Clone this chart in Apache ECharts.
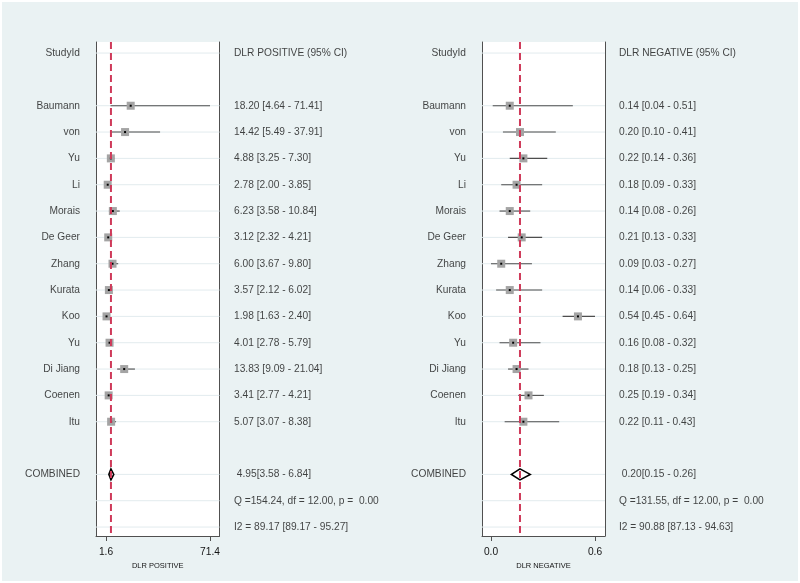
<!DOCTYPE html>
<html>
<head>
<meta charset="utf-8">
<title>DLR forest plot</title>
<script src="https://cdn.jsdelivr.net/npm/echarts@6/dist/echarts.min.js"></script>
<style>
html, body { margin: 0; padding: 0; background: #fff; }
#wrap { position: relative; width: 800px; height: 583px; }
#chart { width: 800px; height: 583px; }
#frame { position: absolute; left: 0; top: 0; width: 800px; height: 583px; box-sizing: border-box; border: 2px solid #fff; pointer-events: none; }
</style>
</head>
<body>
<div id="wrap"><div id="chart"></div><div id="frame"></div></div>
<script>
// study names, top to bottom
const studies = ['Baumann', 'von', 'Yu', 'Li', 'Morais', 'De Geer', 'Zhang', 'Kurata', 'Koo', 'Yu', 'Di Jiang', 'Coenen', 'Itu']

// DLR positive
const posEst = [18.20, 14.42, 4.88, 2.78, 6.23, 3.12, 6.00, 3.57, 1.98, 4.01, 13.83, 3.41, 5.07]
const posLo = [4.64, 5.49, 3.25, 2.00, 3.58, 2.32, 3.67, 2.12, 1.63, 2.78, 9.09, 2.77, 3.07]
const posHi = [71.41, 37.91, 7.30, 3.85, 10.84, 4.21, 9.80, 6.02, 2.40, 5.79, 21.04, 4.21, 8.38]
const posCombined = [4.95, 3.58, 6.84]
const posQ = [154.24, 12.00, 0.00]
const posI2 = [89.17, 89.17, 95.27]

// DLR negative
const negEst = [0.14, 0.20, 0.22, 0.18, 0.14, 0.21, 0.09, 0.14, 0.54, 0.16, 0.18, 0.25, 0.22]
const negLo = [0.04, 0.10, 0.14, 0.09, 0.08, 0.13, 0.03, 0.06, 0.45, 0.08, 0.13, 0.19, 0.11]
const negHi = [0.51, 0.41, 0.36, 0.33, 0.26, 0.33, 0.27, 0.33, 0.64, 0.32, 0.25, 0.34, 0.43]
const negCombined = [0.20, 0.15, 0.26]
const negQ = [131.55, 12.00, 0.00]
const negI2 = [90.88, 87.13, 94.63]

// row layout (row 0 = header, studies from row 2)
const HEADER_ROW = 0
const FIRST_STUDY_ROW = 2
const COMBINED_ROW = 16
const Q_ROW = 17
const I2_ROW = 18

const FONT = '"Liberation Sans", Arial, sans-serif'
const TEXT = '#141414'
const AXIS = '#505050'
const Y_MIN = -0.42
const Y_MAX = 18.34
const TOP = 42
const HEIGHT = 494

const f2 = (v) => v.toFixed(2)

const panels = [
  {
    axisName: 'DLR POSITIVE', header: 'DLR POSITIVE (95% CI)',
    est: posEst, lo: posLo, hi: posHi, comb: posCombined, q: posQ, i2: posI2,
    nameRight: 80, plotLeft: 96, plotWidth: 123.5, valueLeft: 234,
    xMin: -5.08, xMax: 77.78
  },
  {
    axisName: 'DLR NEGATIVE', header: 'DLR NEGATIVE (95% CI)',
    est: negEst, lo: negLo, hi: negHi, comb: negCombined, q: negQ, i2: negI2,
    nameRight: 466, plotLeft: 482, plotWidth: 123, valueLeft: 619,
    xMin: -0.0228, xMax: 0.6987
  }
]

const grid = []
const xAxis = []
const yAxis = []
const series = []

const hiddenY = (gi) => ({
  gridIndex: gi, type: 'value', inverse: true, min: Y_MIN, max: Y_MAX, show: false
})

const textSeries = (xi, yi, items, pos) => ({
  type: 'scatter', xAxisIndex: xi, yAxisIndex: yi, symbolSize: 0, silent: true,
  data: items,
  label: {
    show: true, position: pos, distance: 0, formatter: '{b}',
    color: TEXT, fontFamily: FONT, fontSize: 10.2
  }
})

panels.forEach((p) => {
  const rows = studies.map((s, i) => i + FIRST_STUDY_ROW)
  const gridRows = [HEADER_ROW, ...rows, COMBINED_ROW, Q_ROW, I2_ROW]
  const ticks = [Math.min(...p.lo), Math.max(...p.hi)]

  // names column
  const gName = grid.length
  grid.push({ left: 0, width: p.nameRight, top: TOP, height: HEIGHT })
  xAxis.push({ gridIndex: gName, type: 'value', min: 0, max: 1, show: false })
  const yName = yAxis.length
  yAxis.push(hiddenY(gName))
  const xName = xAxis.length - 1
  const nameItems = [{ name: 'StudyId', value: [1, HEADER_ROW] }]
  studies.forEach((s, i) => nameItems.push({ name: s, value: [1, rows[i]] }))
  nameItems.push({ name: 'COMBINED', value: [1, COMBINED_ROW] })
  series.push(textSeries(xName, yName, nameItems, 'left'))

  // plot area
  const gPlot = grid.length
  grid.push({
    left: p.plotLeft, width: p.plotWidth, top: TOP, height: HEIGHT,
    show: true, backgroundColor: '#ffffff', borderWidth: 0
  })
  const xPlot = xAxis.length
  xAxis.push({
    gridIndex: gPlot, type: 'value', min: p.xMin, max: p.xMax,
    name: p.axisName, nameLocation: 'middle', nameGap: 20,
    nameTextStyle: { color: TEXT, fontFamily: FONT, fontSize: 7.5 },
    axisLine: { show: true, onZero: false, lineStyle: { color: AXIS, width: 1 } },
    axisTick: { show: true, customValues: ticks, length: 5, lineStyle: { color: AXIS } },
    axisLabel: {
      show: true, customValues: ticks, margin: 11,
      formatter: (v) => v.toFixed(1),
      color: TEXT, fontFamily: FONT, fontSize: 10.2
    },
    splitLine: { show: false }
  })
  const yPlot = yAxis.length
  yAxis.push({
    gridIndex: gPlot, type: 'value', inverse: true, min: Y_MIN, max: Y_MAX, position: 'left',
    axisLine: { show: true, onZero: false, lineStyle: { color: AXIS, width: 1 } },
    axisTick: { show: false }, axisLabel: { show: false }, splitLine: { show: false }
  })
  yAxis.push({
    gridIndex: gPlot, type: 'value', inverse: true, min: Y_MIN, max: Y_MAX, position: 'right',
    axisLine: { show: true, onZero: false, lineStyle: { color: AXIS, width: 1 } },
    axisTick: { show: false }, axisLabel: { show: false }, splitLine: { show: false }
  })

  // row gridlines
  series.push({
    type: 'custom', xAxisIndex: xPlot, yAxisIndex: yPlot, silent: true, z: 1,
    data: gridRows.map((r) => [p.xMin, r]),
    encode: { x: 0, y: 1 },
    renderItem: (params, api) => {
      const cs = params.coordSys
      const y = api.coord([p.xMin, api.value(1)])[1]
      return {
        type: 'line',
        shape: { x1: cs.x, y1: y, x2: cs.x + cs.width, y2: y },
        style: { stroke: '#e2ebee', lineWidth: 1 }
      }
    }
  })

  // confidence intervals
  series.push({
    type: 'custom', xAxisIndex: xPlot, yAxisIndex: yPlot, silent: true, z: 3,
    data: studies.map((s, i) => [p.lo[i], p.hi[i], rows[i]]),
    encode: { x: [0, 1], y: 2 },
    renderItem: (params, api) => {
      const a = api.coord([api.value(0), api.value(2)])
      const b = api.coord([api.value(1), api.value(2)])
      return {
        type: 'line',
        shape: { x1: a[0], y1: a[1], x2: b[0], y2: b[1] },
        style: { stroke: '#4e4e4e', lineWidth: 1.1 }
      }
    }
  })

  // study boxes
  series.push({
    type: 'scatter', xAxisIndex: xPlot, yAxisIndex: yPlot, silent: true, z: 4,
    symbol: 'rect', symbolSize: 8,
    itemStyle: { color: '#a4a4a4', opacity: 1 },
    data: studies.map((s, i) => [p.est[i], rows[i]])
  })
  series.push({
    type: 'scatter', xAxisIndex: xPlot, yAxisIndex: yPlot, silent: true, z: 5,
    symbol: 'rect', symbolSize: 2,
    itemStyle: { color: '#000000', opacity: 1 },
    data: studies.map((s, i) => [p.est[i], rows[i]])
  })

  // combined diamond
  series.push({
    type: 'custom', xAxisIndex: xPlot, yAxisIndex: yPlot, silent: true, z: 5,
    data: [[p.comb[1], p.comb[0], p.comb[2], COMBINED_ROW]],
    encode: { x: [0, 1, 2], y: 3 },
    renderItem: (params, api) => {
      const r = api.value(3)
      const l = api.coord([api.value(0), r])
      const c = api.coord([api.value(1), r])
      const h = api.coord([api.value(2), r])
      const hh = 5.5
      return {
        type: 'polygon',
        shape: { points: [[l[0], l[1]], [c[0], c[1] - hh], [h[0], h[1]], [c[0], c[1] + hh]] },
        style: { fill: '#ffffff', stroke: '#000000', lineWidth: 1.6 }
      }
    }
  })

  // pooled estimate line
  series.push({
    type: 'custom', xAxisIndex: xPlot, yAxisIndex: yPlot, silent: true, z: 6,
    data: [[p.comb[0], COMBINED_ROW]],
    encode: { x: 0, y: 1 },
    renderItem: (params, api) => {
      const cs = params.coordSys
      const x = api.coord([api.value(0), api.value(1)])[0]
      return {
        type: 'line',
        shape: { x1: x, y1: cs.y, x2: x, y2: cs.y + cs.height },
        style: { stroke: '#cf3a5a', lineWidth: 2, lineDash: [7, 4] }
      }
    }
  })

  // values column
  const gVal = grid.length
  grid.push({ left: p.valueLeft, width: 150, top: TOP, height: HEIGHT })
  const xVal = xAxis.length
  xAxis.push({ gridIndex: gVal, type: 'value', min: 0, max: 1, show: false })
  const yVal = yAxis.length
  yAxis.push(hiddenY(gVal))
  const valItems = [{ name: p.header, value: [0, HEADER_ROW] }]
  studies.forEach((s, i) => valItems.push({
    name: `${f2(p.est[i])} [${f2(p.lo[i])} - ${f2(p.hi[i])}]`, value: [0, rows[i]]
  }))
  valItems.push({ name: ` ${f2(p.comb[0])}[${f2(p.comb[1])} - ${f2(p.comb[2])}]`, value: [0, COMBINED_ROW] })
  valItems.push({ name: `Q =${f2(p.q[0])}, df = ${f2(p.q[1])}, p =  ${f2(p.q[2])}`, value: [0, Q_ROW] })
  valItems.push({ name: `I2 = ${f2(p.i2[0])} [${f2(p.i2[1])} - ${f2(p.i2[2])}]`, value: [0, I2_ROW] })
  series.push(textSeries(xVal, yVal, valItems, 'right'))
})

const chart = echarts.init(document.getElementById('chart'), null, { renderer: 'canvas' })
chart.setOption({
  backgroundColor: '#eaf2f3',
  animation: false,
  grid, xAxis, yAxis, series
})
window.addEventListener('resize', () => chart.resize())
</script>
</body>
</html>
